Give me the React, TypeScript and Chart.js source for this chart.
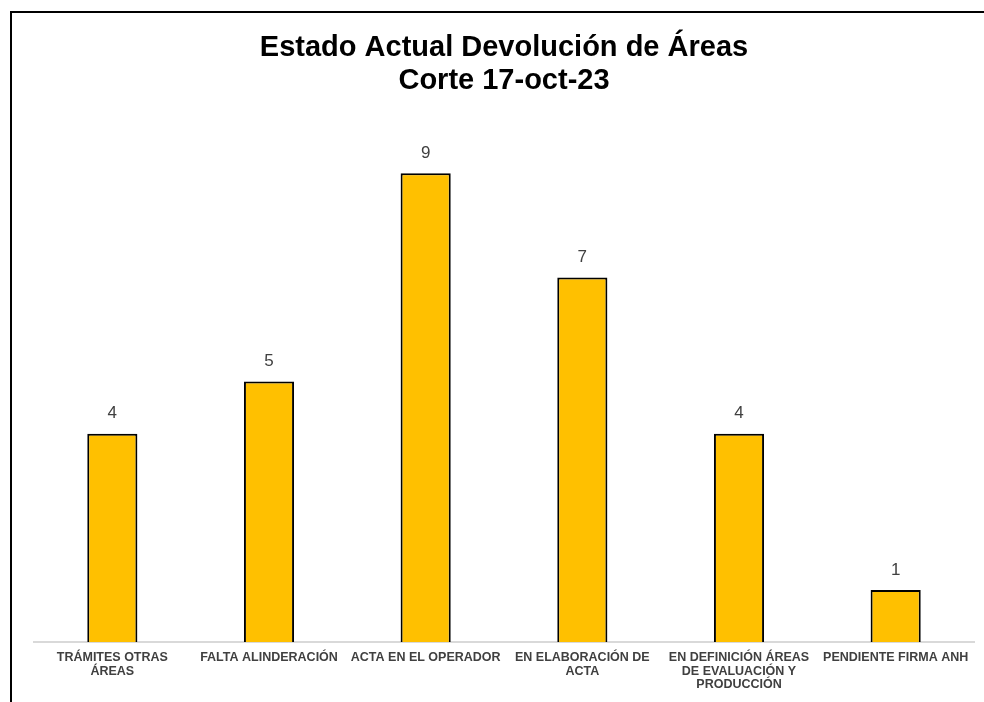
import React, { useEffect, useRef } from "react";
import { Chart, registerables } from "chart.js";

Chart.register(...registerables);

const categories: string[][] = [
  ["TRÁMITES OTRAS", "ÁREAS"],
  ["FALTA ALINDERACIÓN"],
  ["ACTA EN EL OPERADOR"],
  ["EN ELABORACIÓN DE", "ACTA"],
  ["EN DEFINICIÓN ÁREAS", "DE EVALUACIÓN Y", "PRODUCCIÓN"],
  ["PENDIENTE FIRMA ANH"],
];
const values: number[] = [4, 5, 9, 7, 4, 1];
const titleLines: string[] = ["Estado Actual Devolución de Áreas", "Corte 17-oct-23"];

const dataLabelPlugin = {
  id: "dataLabels",
  afterDatasetsDraw(chart: any) {
    const ctx = chart.ctx;
    const meta = chart.getDatasetMeta(0);
    ctx.save();
    ctx.font = "17px 'Liberation Sans', Arial, sans-serif";
    ctx.fillStyle = "#404040";
    ctx.textAlign = "center";
    ctx.textBaseline = "middle";
    meta.data.forEach((bar: any, i: number) => {
      ctx.fillText(String(values[i]), bar.x, bar.y - 20);
    });
    ctx.restore();
  },
};

export default function App() {
  const ref = useRef<HTMLCanvasElement>(null);
  useEffect(() => {
    if (!ref.current) return;
    const chart = new Chart(ref.current, {
      type: "bar",
      data: {
        labels: categories,
        datasets: [
          {
            data: values,
            backgroundColor: "#FFC000",
            borderColor: "#000000",
            borderWidth: 2,
            barPercentage: 0.32,
            categoryPercentage: 1,
          },
        ],
      },
      options: {
        animation: false,
        responsive: true,
        maintainAspectRatio: false,
        layout: { padding: { left: 22, right: 10, top: 0, bottom: 0 } },
        plugins: {
          legend: { display: false },
          tooltip: { enabled: false },
          title: {
            display: true,
            text: titleLines,
            color: "#000000",
            font: { family: "'Liberation Sans', Arial, sans-serif", size: 29, weight: "bold", lineHeight: 1.14 },
            padding: { top: 18, bottom: 24 },
          },
        },
        scales: {
          x: {
            grid: { display: false, drawTicks: false },
            border: { display: true, color: "#d9d9d9", width: 2 },
            ticks: {
              autoSkip: false,
              maxRotation: 0,
              minRotation: 0,
              padding: 9,
              color: "#404040",
              font: { family: "'Liberation Sans', Arial, sans-serif", size: 12.5, weight: "bold", lineHeight: 1.08 },
            },
            afterFit(scale: any) {
              scale.height = 60;
            },
          },
          y: {
            display: false,
            min: 0,
            max: 10,
          },
        },
      },
      plugins: [dataLabelPlugin],
    });
    return () => chart.destroy();
  }, []);

  return (
    <div
      style={{
        position: "fixed",
        left: 10,
        top: 11,
        width: 974,
        height: 691,
        boxSizing: "border-box",
        borderTop: "2px solid #000",
        borderLeft: "2px solid #000",
        background: "#fff",
      }}
    >
      <div style={{ position: "relative", width: "100%", height: "100%" }}>
        <canvas ref={ref} />
      </div>
    </div>
  );
}
